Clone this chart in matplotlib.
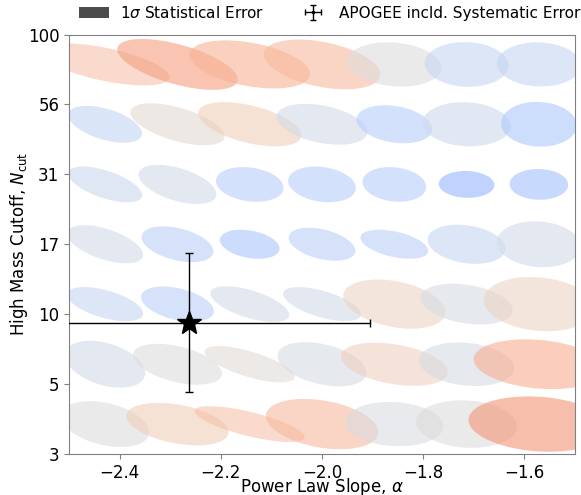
import numpy as np
import matplotlib
matplotlib.use("Agg")
import matplotlib.pyplot as plt
from matplotlib.patches import Ellipse, Patch
from matplotlib.colors import Normalize

# grid of true parameters (bin centres)
alpha_grid = [-2.4286, -2.2857, -2.1429, -2.0, -1.8571, -1.7143, -1.5714]
logn_grid = [0.607, 0.821, 1.036, 1.25, 1.464, 1.679, 1.893]

# 1-sigma half extents in alpha (rows: bottom -> top)
sig_alpha = [
    [0.087, 0.101, 0.109, 0.111, 0.097, 0.100, 0.139],
    [0.079, 0.088, 0.089, 0.088, 0.106, 0.094, 0.129],
    [0.075, 0.072, 0.078, 0.077, 0.101, 0.091, 0.109],
    [0.075, 0.071, 0.059, 0.066, 0.067, 0.077, 0.083],
    [0.073, 0.077, 0.067, 0.067, 0.063, 0.055, 0.058],
    [0.073, 0.093, 0.102, 0.090, 0.075, 0.087, 0.075],
    [0.127, 0.119, 0.119, 0.115, 0.093, 0.083, 0.083],
]
# 1-sigma half extents in log10 N_cut
sig_logn = [
    [0.082, 0.076, 0.064, 0.090, 0.079, 0.085, 0.099],
    [0.084, 0.073, 0.065, 0.079, 0.077, 0.078, 0.089],
    [0.061, 0.063, 0.064, 0.061, 0.088, 0.073, 0.097],
    [0.068, 0.064, 0.052, 0.059, 0.052, 0.070, 0.082],
    [0.064, 0.070, 0.062, 0.064, 0.062, 0.048, 0.055],
    [0.066, 0.075, 0.079, 0.073, 0.068, 0.079, 0.080],
    [0.075, 0.091, 0.086, 0.089, 0.079, 0.080, 0.079],
]
# correlation coefficients
corr = [
    [-0.35, -0.38, -0.72, -0.32, -0.10, -0.10, -0.15],
    [-0.38, -0.45, -0.69, -0.38, -0.36, -0.18, -0.20],
    [-0.55, -0.40, -0.60, -0.60, -0.33, -0.30, -0.15],
    [-0.55, -0.40, -0.30, -0.40, -0.45, -0.23, -0.10],
    [-0.60, -0.50, -0.20, -0.20, -0.15, -0.05, -0.03],
    [-0.50, -0.57, -0.50, -0.37, -0.25, -0.08, -0.05],
    [-0.60, -0.59, -0.40, -0.40, -0.15, -0.05, -0.05],
]
# colour score (mapped through coolwarm)
score = [
    [0.50, 0.57, 0.60, 0.62, 0.49, 0.50, 0.70],
    [0.47, 0.50, 0.51, 0.48, 0.56, 0.48, 0.65],
    [0.44, 0.41, 0.47, 0.47, 0.55, 0.48, 0.55],
    [0.47, 0.41, 0.37, 0.41, 0.41, 0.44, 0.47],
    [0.45, 0.47, 0.40, 0.40, 0.40, 0.33, 0.36],
    [0.43, 0.52, 0.57, 0.47, 0.40, 0.46, 0.38],
    [0.60, 0.68, 0.64, 0.62, 0.50, 0.44, 0.44],
]

# APOGEE point
apogee_alpha = -2.263
apogee_logn = 0.97
apogee_alpha_err = 0.357
apogee_logn_err = 0.25

ytick_pos = [0.5, 0.75, 1.0, 1.25, 1.5, 1.75, 2.0]
ytick_lab = ["3", "5", "10", "17", "31", "56", "100"]
xtick_pos = [-2.4, -2.2, -2.0, -1.8, -1.6]

fig = plt.figure(figsize=(5.81, 4.95), dpi=100)
ax = fig.add_axes([0.1188, 0.0828, 0.8709, 0.8475])

cmap = plt.get_cmap("coolwarm")
norm = Normalize(vmin=0.12, vmax=0.88)

for i, ln in enumerate(logn_grid):
    for j, al in enumerate(alpha_grid):
        sa, sn, r = sig_alpha[i][j], sig_logn[i][j], corr[i][j]
        cov = np.array([[sa ** 2, r * sa * sn], [r * sa * sn, sn ** 2]])
        vals, vecs = np.linalg.eigh(cov)
        order = vals.argsort()[::-1]
        vals, vecs = vals[order], vecs[:, order]
        ang = np.degrees(np.arctan2(vecs[1, 0], vecs[0, 0]))
        e = Ellipse((al, ln), 2 * np.sqrt(vals[0]), 2 * np.sqrt(vals[1]),
                    angle=ang, facecolor=cmap(norm(score[i][j])),
                    edgecolor="none", alpha=0.6)
        ax.add_patch(e)

ax.errorbar([apogee_alpha], [apogee_logn], xerr=[apogee_alpha_err],
            yerr=[apogee_logn_err], fmt="*", color="k", ms=18,
            elinewidth=1, capsize=3, ecolor="k", zorder=5)

# legend proxies
h1 = Patch(facecolor="k", alpha=0.7, label=r"1$\sigma$ Statistical Error")
h2 = ax.errorbar([np.nan], [np.nan], xerr=[0.1], yerr=[0.1], fmt=".",
                 color="k", ms=3, elinewidth=1, capsize=2,
                 label="APOGEE incld. Systematic Error")
ax.legend(handles=[h1, h2], loc="lower center", bbox_to_anchor=(0.515, 1.015),
          ncol=2, frameon=False, fontsize=11, handlelength=2.0,
          handletextpad=0.7, columnspacing=2.2, borderaxespad=0.1)

ax.set_xlim(-2.5, -1.5)
ax.set_ylim(0.5, 2.0)
ax.set_xticks(xtick_pos)
ax.set_yticks(ytick_pos)
ax.set_yticklabels(ytick_lab)
ax.tick_params(labelsize=12, color="#808080")
for s in ax.spines.values():
    s.set_color("#808080")
ax.set_xlabel(r"Power Law Slope, $\alpha$", fontsize=12, labelpad=-4)
ax.set_ylabel(r"High Mass Cutoff, $N_{\rm cut}$", fontsize=12, labelpad=-2)

fig.savefig("out.png", dpi=100)
